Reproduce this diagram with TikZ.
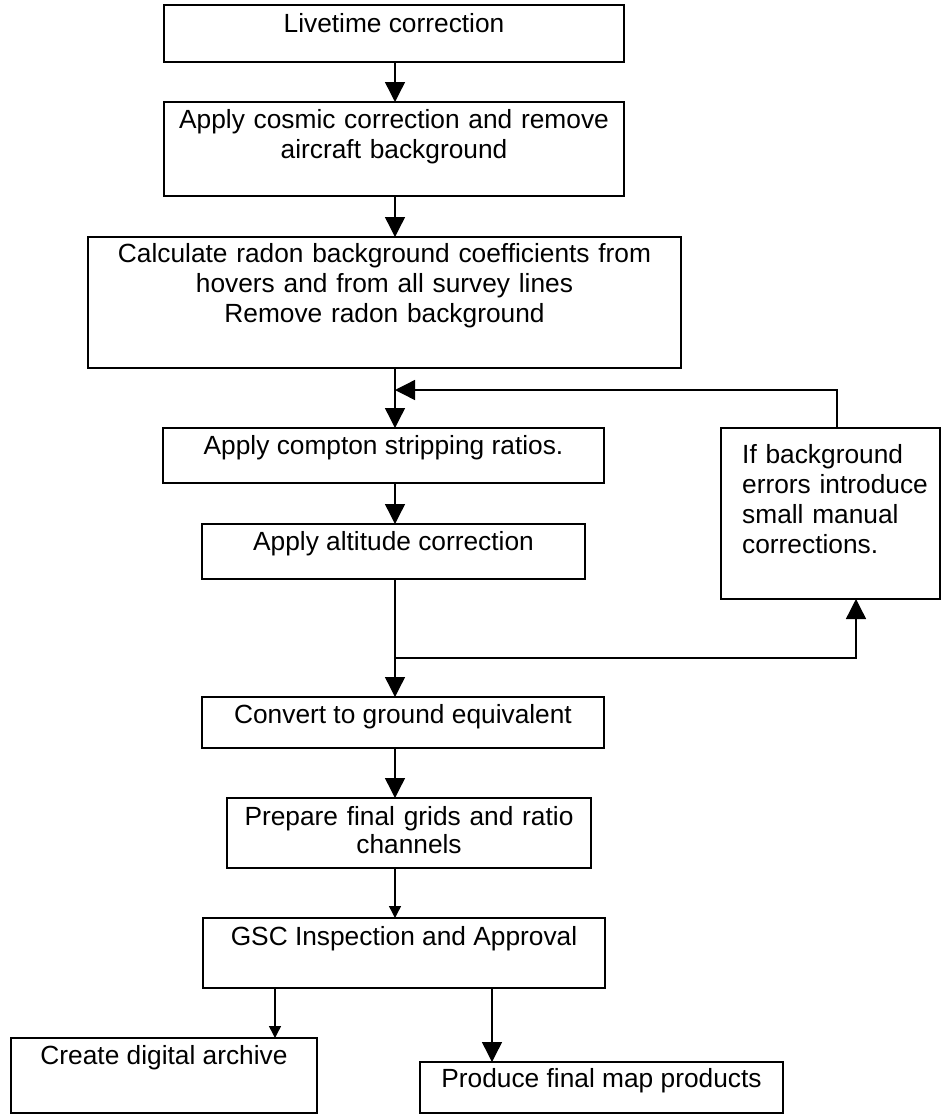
\documentclass[tikz,border=0pt]{standalone}
\usepackage{fontspec}
\setmainfont{Liberation Sans}
\usetikzlibrary{arrows.meta}
\begin{document}
\begin{tikzpicture}[x=1pt,y=-1pt,
  box/.style={draw, line width=1.6pt, anchor=north west, inner sep=0pt, outer sep=0pt},
  txt/.style={font=\fontsize{26.3}{30}\selectfont, inner sep=0pt, anchor=base, align=center},
  conn/.style={line width=1.4pt, -{Triangle[width=20pt,length=20pt]}},
  sconn/.style={line width=1.4pt, -{Triangle[width=12pt,length=12pt]}}]
\useasboundingbox (0,0) rectangle (942,1114);
% boxes
\node[box, minimum width=460pt, minimum height=57pt] (b1) at (164,5) {};
\node[box, minimum width=460pt, minimum height=94pt] (b2) at (164,102) {};
\node[box, minimum width=593pt, minimum height=131pt] (b3) at (88,237) {};
\node[box, minimum width=441pt, minimum height=55pt] (b4) at (163,428) {};
\node[box, minimum width=383pt, minimum height=55pt] (b5) at (202,524) {};
\node[box, minimum width=219pt, minimum height=171pt] (b6) at (721,428) {};
\node[box, minimum width=402pt, minimum height=51pt] (b7) at (202,697) {};
\node[box, minimum width=364pt, minimum height=70pt] (b8) at (227,798) {};
\node[box, minimum width=402pt, minimum height=70pt] (b9) at (203,918) {};
\node[box, minimum width=306pt, minimum height=75pt] (b10) at (11,1038) {};
\node[box, minimum width=363pt, minimum height=51pt] (b11) at (420,1062) {};
% texts
\node[txt] (t1) at (394,32) {Livetime correction};
\node[txt, text width=440pt] (t2) at (394,128) {Apply cosmic correction and remove\\aircraft background};
\node[txt, text width=580pt] (t3) at (384.5,262) {Calculate radon background coefficients from\\hovers and from all survey lines\\Remove radon background};
\node[txt] (t4) at (383.5,454) {Apply compton stripping ratios.};
\node[txt] (t5) at (393.5,550) {Apply altitude correction};
\node[txt, anchor=base west, align=left, text width=195pt] (t6) at (742,463) {If background\\errors introduce\\small manual\\corrections.};
\node[txt] (t7) at (403,723) {Convert to ground equivalent};
\node[txt, text width=360pt, font=\fontsize{26.3}{28}\selectfont] (t8) at (409,825) {Prepare final grids and ratio\\channels};
\node[txt] (t9) at (404,945) {GSC Inspection and Approval};
\node[txt] (t10) at (164,1064) {Create digital archive};
\node[txt] (t11) at (601.5,1087) {Produce final map products};
% connectors
\coordinate (ax) at (395,0);
\coordinate (fb) at (395,390);
\coordinate (fr) at (837,0);
\coordinate (br) at (395,658);
\coordinate (ur) at (856,0);
\coordinate (la) at (275,0);
\coordinate (ra) at (492,0);
\draw[conn] (b1.south -| ax) -- (b2.north -| ax);
\draw[conn] (b2.south -| ax) -- (b3.north -| ax);
\draw[conn] (b3.south -| ax) -- (b4.north -| ax);
\draw[conn] (b6.north -| fr) |- (fb);
\draw[conn] (b4.south -| ax) -- (b5.north -| ax);
\draw[conn] (b5.south -| ax) -- (b7.north -| ax);
\draw[conn] (br) -| (b6.south -| ur);
\draw[conn] (b7.south -| ax) -- (b8.north -| ax);
\draw[sconn] (b8.south -| ax) -- (b9.north -| ax);
\draw[sconn] (b9.south -| la) -- (b10.north -| la);
\draw[conn] (b9.south -| ra) -- (b11.north -| ra);
\end{tikzpicture}
\end{document}
